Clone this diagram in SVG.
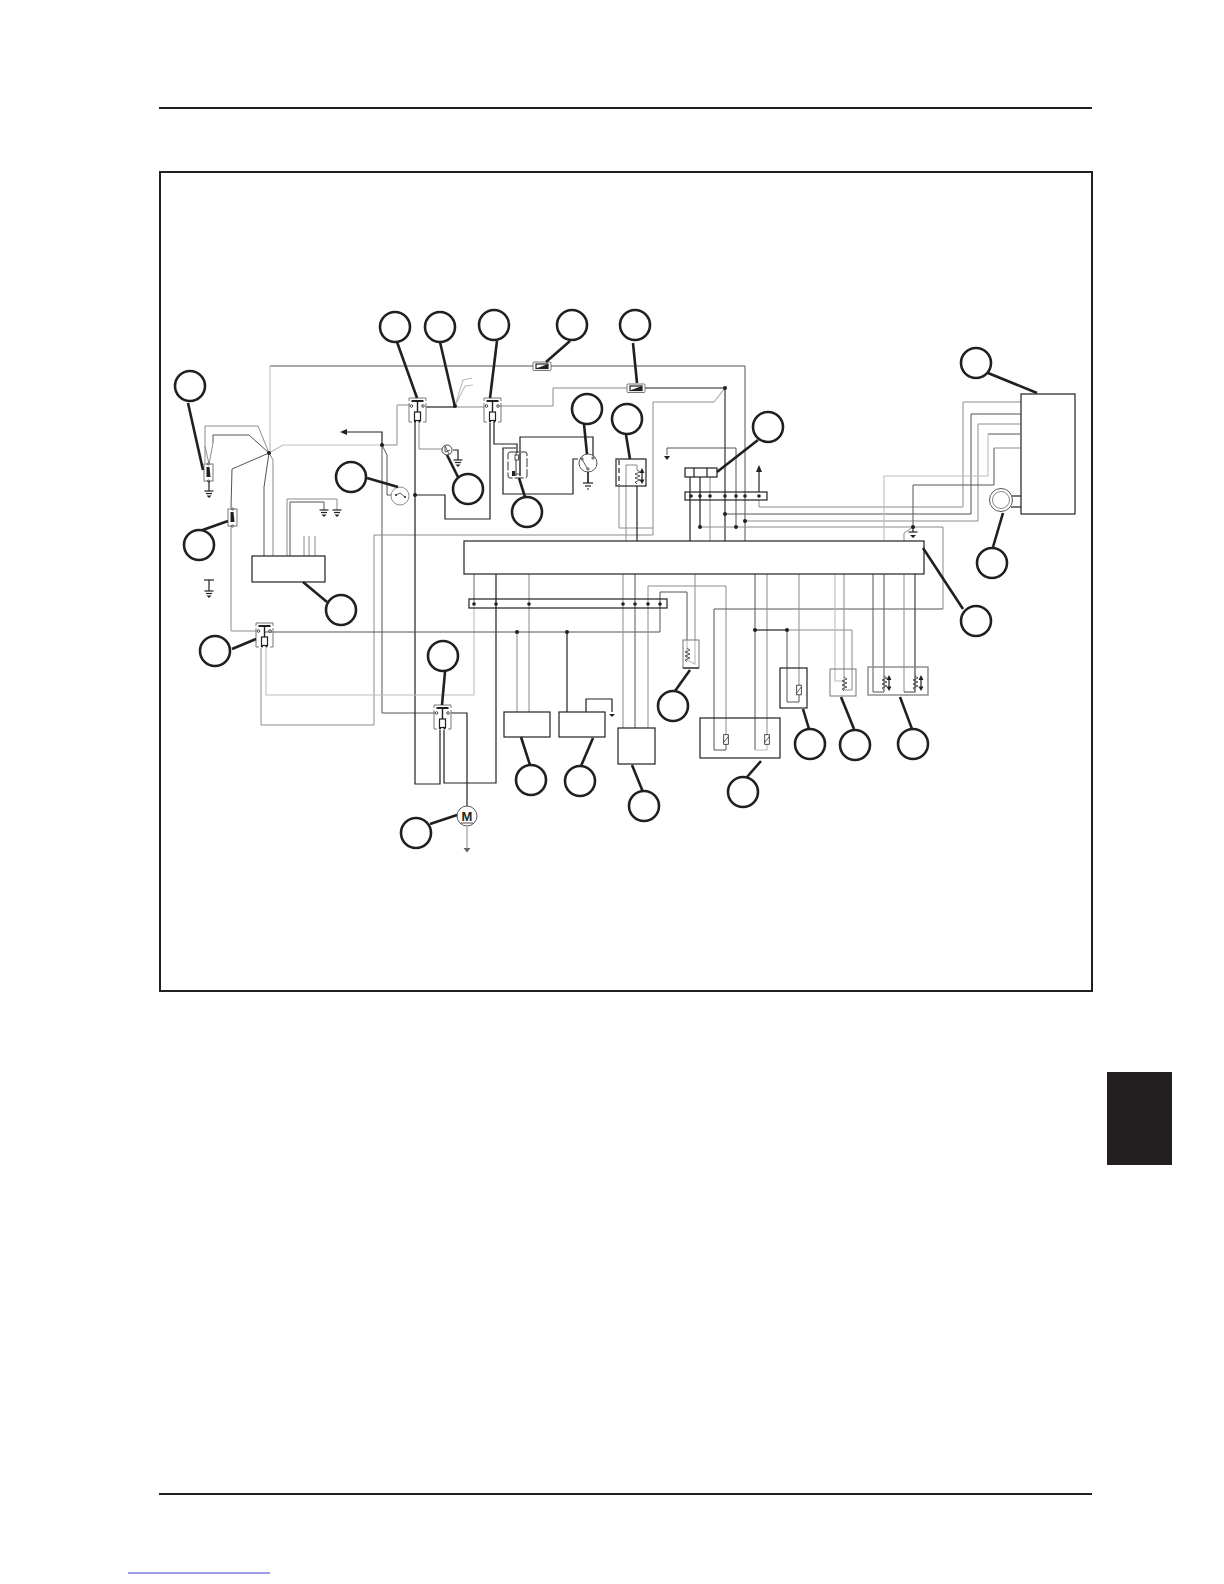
<svg xmlns="http://www.w3.org/2000/svg" width="1224" height="1584" viewBox="0 0 1224 1584">
<style>
path,line,rect,circle{fill:none}
.k{stroke:#231f20;stroke-width:1.2}
.d{stroke:#555;stroke-width:1}
.m{stroke:#8c8c8c;stroke-width:1}
.l{stroke:#bdbdbd;stroke-width:1.1}
.b{stroke:#231f20;stroke-width:1.2;fill:#fff}
.g{stroke:#777;stroke-width:1;fill:#fff}
.c{stroke:#231f20;stroke-width:2.6;fill:#fff}
.ld{stroke:#231f20;stroke-width:2.6}
.dot{fill:#231f20;stroke:none}
.tri{fill:#231f20;stroke:none}
.f{stroke:#231f20;stroke-width:.8;fill:#fff}
.z{stroke:#333;stroke-width:.8}
</style>
<defs>
<g id="sw">
<path class="g" d="M0 3V0H17V3M0 5V24H3M17 5V24H14"/>
<line class="k" x1="2.500" y1="3" x2="14.500" y2="3" style="stroke-width:2"/>
<line class="k" x1="8.500" y1="3" x2="8.500" y2="14" style="stroke-width:1.4"/>
<circle class="f" cx="2.500" cy="8" r="1.300"/><circle class="f" cx="14" cy="8" r="1.300"/>
<rect class="b" x="5.500" y="14" width="6" height="8.500"/>
<circle class="dot" cx="6" cy="23.500" r="1.100"/><circle class="dot" cx="10.500" cy="23.500" r="1.100"/>
</g>
<g id="gnd">
<line class="k" x1="-4.500" y1="0" x2="4.500" y2="0"/><line class="k" x1="-3" y1="2.500" x2="3" y2="2.500"/>
<path class="tri" d="M-2.500 4.500H2.500L0 7Z"/>
</g>
<g id="sen">
<rect class="g" x="0" y="0" width="9" height="17"/>
<path class="tri" d="M2.500 3H5.500L6.500 13H2.500Z"/>
<circle class="f" cx="4.500" cy="0" r="1"/><circle class="f" cx="4.500" cy="17" r="1"/>
</g>
<g id="fuse">
<rect class="g" x="0" y="0" width="18" height="8.500" rx="1"/>
<rect class="b" x="3" y="2" width="12" height="4.500"/>
<path class="tri" d="M3 6.500L15 2V6.500Z"/>
</g>
<g id="res">
<rect class="f" x="-2.300" y="-4.800" width="4.600" height="9.600"/>
<line class="z" x1="-2.300" y1="3" x2="2.300" y2="-3"/>
</g>
<path id="zig" class="z" d="M0 0L3 2L-2 4L3 6L-2 8L3 10L-2 12L0 14"/>
<g id="arr">
<line class="k" x1="0" y1="1" x2="0" y2="13"/>
<path class="tri" d="M-2.500 4L0 -1L2.500 4ZM-2.500 10.500L0 15L2.500 10.500Z"/>
</g>
</defs>

<g id="page">
<rect x="0" y="0" width="1224" height="1584" style="fill:#fff"/>
<line x1="159" y1="108" x2="1092" y2="108" stroke="#231f20" stroke-width="2"/>
<line x1="159" y1="1494" x2="1092" y2="1494" stroke="#231f20" stroke-width="2"/>
<rect x="160" y="172" width="932" height="819" stroke="#231f20" stroke-width="2"/>
<rect x="1107" y="1072" width="65" height="93" style="fill:#231f20"/>
<line x1="128" y1="1573" x2="270" y2="1573" stroke="#3a3ac8" stroke-width="1"/>
</g>

<g id="connectors">
<path class="d" d="M270 366H745V541"/>
<path class="l" d="M270 366V453"/>
<path class="m" d="M205 463V426H258L269 453"/>
<path class="d" d="M213 443V435H249L269 453"/>
<path class="m" d="M209 464L205 446M209 464L213 443"/>
<path class="d" d="M269 453L232 469L231 508"/>
<path class="m" d="M231 525V631H256"/>
<path class="l" d="M269 453L283 445H382"/>
<path class="m" d="M382 445H397V405H410"/>
<path class="k" d="M382 445V432H346"/>
<path class="tri" d="M340 432L347 429V435Z"/>
<path class="d" d="M382 445L387 455V495H392"/>
<path class="d" d="M382 445V713H435"/>
<path class="d" d="M264 556V487L269 453"/>
<path class="m" d="M273 556V460L269 453"/>
<path class="m" d="M287 556V499H337V510"/>
<path class="d" d="M290 556V502H324V510"/>
<path class="m" d="M304 536V556M309 536V556M315 536V556"/>
<path class="m" d="M374 725V535H653V402H714L725 388"/>
<path class="m" d="M374 725H261V648"/>
<path class="k" d="M415 422V784H440V730"/>
<path class="k" d="M415 495H445V519H490V423"/>
<path class="m" d="M419 422V449H443"/>
<path class="k" d="M453 450H458V460"/>
<path class="k" d="M426 407H455"/>
<path class="m" d="M455 407H485"/>
<path class="l" d="M455 406L463 380L472 378M455 406L465 386L473 385"/>
<path class="m" d="M498 406H553V388H627"/>
<path class="k" d="M644 388H725"/>
<path class="k" d="M725 388V541" style="stroke:#333"/>
<path class="k" d="M494 422V444H517V453"/>
<path class="k" d="M520 453V437H593V457"/>
<path class="k" d="M516 448H503V494H573V459H578"/>
<path class="k" d="M588 472V483"/>
<path class="m" d="M619 486V528H653"/>
<path class="m" d="M626 541V465H637V470"/>
<path class="k" d="M637 486V541"/>
<path class="d" d="M667 455V448H736V527"/>
<path class="k" d="M690 477V541"/>
<path class="k" d="M700 477V527"/>
<path class="m" d="M710 477V541"/>
<path class="k" d="M759 492V470"/>
<path class="tri" d="M756 472L759 465L762 472Z"/>
<path class="m" d="M700 527H943V609"/>
<path class="m" d="M759 500V507H963V402H1021"/>
<path class="d" d="M725 514H971V414H1021"/>
<path class="m" d="M745 521H978V424H1021"/>
<path class="d" d="M988 434H1020"/>
<path class="l" d="M988 434V476H884V541"/>
<path class="m" d="M994 448H1021"/>
<path class="d" d="M994 448V485H913V527"/>
<path class="m" d="M913 527L904 533V541"/>
<line class="k" x1="1011" y1="496" x2="1021" y2="496"/>
<line class="k" x1="1011" y1="507" x2="1021" y2="507"/>
<path class="l" d="M474 574V695H266V648"/>
<path class="m" d="M474 574V604"/>
<path class="k" d="M496 574V783H444V730"/>
<path class="m" d="M529 574V712"/>
<path class="d" d="M660 604V632H264"/>
<path class="m" d="M517 632V712"/>
<path class="k" d="M567 632V712"/>
<path class="k" d="M586 712V699H612V712"/>
<path class="tri" d="M609 714H615L612 717Z"/>
<path class="m" d="M623 574V728"/>
<path class="d" d="M635 574V728"/>
<path class="m" d="M648 728V586H726V735"/>
<path class="d" d="M660 604V592H687V640"/>
<path class="m" d="M695 574V640"/>
<path class="l" d="M687 640V660L695 664V640"/>
<path class="d" d="M943 609H714V750H726V744"/>
<path class="d" d="M755 574V750"/>
<path class="l" d="M755 750H767V744"/>
<path class="m" d="M767 574V735"/>
<path class="k" d="M755 630H787"/>
<path class="d" d="M787 630V702H799V695"/>
<path class="m" d="M799 574V685"/>
<path class="m" d="M787 630H852V690H844V677"/>
<path class="l" d="M835 574V681H842"/>
<path class="m" d="M844 574V677"/>
<path class="d" d="M873 574V692H884V574"/>
<path class="m" d="M904 574V692"/>
<path class="k" d="M904 692H915V574" style="stroke:#444"/>
<path class="k" d="M451 713H467V806"/>
<path class="m" d="M467 827V848"/>
<circle class="dot" cx="269" cy="453" r="2"/><circle class="dot" cx="382" cy="445" r="2"/><circle class="dot" cx="415" cy="495" r="2"/>
<circle class="dot" cx="455" cy="406" r="2"/><circle class="dot" cx="725" cy="388" r="2"/>
<circle class="dot" cx="725" cy="514" r="2"/><circle class="dot" cx="745" cy="521" r="2"/>
<circle class="dot" cx="700" cy="527" r="2"/><circle class="dot" cx="736" cy="527" r="2"/><circle class="dot" cx="913" cy="527" r="2"/>
<circle class="dot" cx="517" cy="632" r="2"/><circle class="dot" cx="567" cy="632" r="2"/><circle class="dot" cx="755" cy="630" r="2"/><circle class="dot" cx="787" cy="630" r="2"/>
</g>

<g id="sensor-left"><use href="#sen" x="204" y="464"/><line class="k" x1="209" y1="481" x2="209" y2="491"/><use href="#gnd" x="209" y="491"/></g>
<g id="sensor-2"><use href="#sen" x="228" y="509"/></g>
<g id="ground-stray"><line class="k" x1="204" y1="580" x2="214" y2="580"/><line class="k" x1="209" y1="580" x2="209" y2="591"/><use href="#gnd" x="209" y="591"/></g>
<g id="ground-a"><use href="#gnd" x="324" y="510"/></g>
<g id="ground-b"><use href="#gnd" x="337" y="510"/></g>
<g id="block-left"><rect class="b" x="252" y="556" width="73" height="26"/></g>
<g id="switch-1"><use href="#sw" x="409" y="398"/></g>
<g id="switch-2"><use href="#sw" x="484" y="398"/></g>
<g id="switch-3"><use href="#sw" x="256" y="623"/></g>
<g id="switch-4"><use href="#sw" x="434" y="705"/></g>
<g id="lamp"><circle class="f" cx="447" cy="450" r="5"/><path class="z" d="M445 446L449 454M445 446V452L450 450"/><use href="#gnd" x="458" y="460"/></g>
<g id="pressure"><circle class="m" cx="400" cy="496" r="9" style="fill:#fff"/><path class="z" d="M396 495L400 493L405 497"/><circle class="dot" cx="396" cy="495" r="1"/><circle class="dot" cx="405" cy="497" r="1"/></g>
<g id="fuse-top"><use href="#fuse" x="533" y="362"/></g>
<g id="fuse-2"><use href="#fuse" x="627" y="384"/></g>
<g id="relay">
<rect x="508" y="452" width="19" height="26" rx="2" stroke="#333" stroke-width="1" stroke-dasharray="9 2"/>
<line class="k" x1="516" y1="453" x2="516" y2="476" style="stroke-width:.9"/>
<line class="k" x1="520" y1="453" x2="520" y2="476" style="stroke-width:1.4"/>
<rect class="f" x="515" y="455" width="3.500" height="5"/><rect class="tri" x="512" y="471" width="3" height="5"/>
<line class="z" x1="513" y1="474" x2="520" y2="474"/>
</g>
<g id="horn">
<circle class="m" cx="588" cy="463" r="9" style="fill:#fff;stroke:#555"/>
<path class="z" d="M582 459L588 470"/><circle class="f" cx="582" cy="459" r="1.100"/><circle class="f" cx="593" cy="458" r="1.100"/><circle class="f" cx="588" cy="469" r="1.100"/>
<line class="k" x1="588" y1="472" x2="588" y2="483"/>
<line class="k" x1="583" y1="483" x2="593" y2="483"/><line class="k" x1="585" y1="486" x2="591" y2="486"/><line class="k" x1="587" y1="489" x2="589" y2="489"/>
</g>
<g id="sender-616">
<rect class="b" x="616" y="459" width="30" height="27" style="fill:none"/>
<line class="k" x1="619" y1="460" x2="619" y2="485" stroke-dasharray="5 3"/>
<use href="#zig" x="637" y="470"/><use href="#arr" x="642" y="469"/>
</g>
<g id="ground-small"><path class="tri" d="M664 456H670L667 460Z"/></g>
<g id="relay-3">
<rect class="b" x="685" y="468" width="32" height="9"/><line class="k" x1="694" y1="468" x2="694" y2="477"/><line class="k" x1="707" y1="468" x2="707" y2="477"/>
</g>
<g id="strip-1">
<rect class="b" x="685" y="492" width="82" height="8" style="fill:none"/>
<circle class="dot" cx="691" cy="496" r="1.800"/><circle class="dot" cx="700" cy="496" r="1.800"/><circle class="dot" cx="710" cy="496" r="1.800"/><circle class="dot" cx="725" cy="496" r="1.800"/><circle class="dot" cx="736" cy="496" r="1.800"/><circle class="dot" cx="745" cy="496" r="1.800"/><circle class="dot" cx="759" cy="496" r="1.800"/>
</g>
<g id="ecu"><rect class="b" x="464" y="541" width="460" height="33"/></g>
<g id="strip-2">
<rect class="b" x="469" y="599" width="198" height="9" style="fill:none"/>
<circle class="dot" cx="474" cy="604" r="1.800"/><circle class="dot" cx="496" cy="604" r="1.800"/><circle class="dot" cx="529" cy="604" r="1.800"/><circle class="dot" cx="623" cy="604" r="1.800"/><circle class="dot" cx="635" cy="604" r="1.800"/><circle class="dot" cx="648" cy="604" r="1.800"/><circle class="dot" cx="660" cy="604" r="1.800"/>
</g>
<g id="box-a"><rect class="b" x="504" y="712" width="46" height="25"/></g>
<g id="box-b"><rect class="b" x="559" y="712" width="46" height="25"/></g>
<g id="box-c"><rect class="b" x="618" y="728" width="37" height="36"/></g>
<g id="heater"><rect x="683" y="640" width="16" height="28" stroke="#777" stroke-width="1"/><line class="k" x1="683" y1="668" x2="699" y2="668"/><use href="#zig" x="687" y="648"/></g>
<g id="sensor-pair">
<rect class="b" x="700" y="718" width="80" height="40" style="fill:none"/>
<use href="#res" x="726" y="739.500"/><use href="#res" x="767" y="739.500"/>
</g>
<g id="sensor-r"><rect class="b" x="780" y="668" width="27" height="40" style="fill:none"/><use href="#res" x="799" y="690"/></g>
<g id="sensor-z"><rect x="830" y="669" width="26" height="27" stroke="#777" stroke-width="1"/><use href="#zig" x="844" y="677"/></g>
<g id="sender-pair">
<rect x="868" y="667" width="60" height="28" stroke="#888" stroke-width="1.400"/>
<use href="#zig" x="884" y="676"/><use href="#arr" x="889" y="676"/>
<use href="#zig" x="915" y="676"/><use href="#arr" x="921" y="676"/>
</g>
<g id="motor">
<circle cx="467" cy="816" r="10" stroke="#555" stroke-width="1" style="fill:#fff"/>
<text x="467" y="821" text-anchor="middle" font-family="Liberation Sans, Arial, sans-serif" font-size="13" font-weight="700" fill="#231f20">M</text>
<line class="k" x1="461" y1="823" x2="473" y2="823" style="stroke-width:.8"/>
<path d="M463.500 848H470.500L467 852.500Z" style="fill:#666"/>
</g>
<g id="unit-right"><rect class="b" x="1021" y="394" width="54" height="120"/></g>
<g id="ring"><circle cx="1001" cy="500" r="11.500" stroke="#555" stroke-width="1" style="fill:#fff"/><circle cx="1001" cy="500" r="8.500" stroke="#888" stroke-width="1"/></g>
<g id="ground-right"><line class="k" x1="913" y1="527" x2="913" y2="532"/><line class="k" x1="908.500" y1="532" x2="917.500" y2="532"/><path class="tri" d="M910 535H916L913 538Z"/></g>

<g id="callouts">
<g id="c01"><line class="ld" x1="188" y1="403" x2="203" y2="470"/><circle class="c" cx="190" cy="386" r="15"/></g>
<g id="c02"><line class="ld" x1="397" y1="342" x2="417" y2="398"/><circle class="c" cx="395" cy="327" r="15"/></g>
<g id="c03"><line class="ld" x1="440" y1="342" x2="455" y2="407"/><circle class="c" cx="440" cy="327" r="15"/></g>
<g id="c04"><line class="ld" x1="497" y1="341" x2="490" y2="398"/><circle class="c" cx="494" cy="325" r="15"/></g>
<g id="c05"><line class="ld" x1="570" y1="341" x2="546" y2="362"/><circle class="c" cx="572" cy="325" r="15"/></g>
<g id="c06"><line class="ld" x1="633" y1="343" x2="637" y2="383"/><circle class="c" cx="635" cy="325" r="15"/></g>
<g id="c07"><line class="ld" x1="988" y1="373" x2="1037" y2="393"/><circle class="c" cx="976" cy="363" r="15"/></g>
<g id="c08"><line class="ld" x1="758" y1="440" x2="717" y2="472"/><circle class="c" cx="768" cy="427" r="15"/></g>
<g id="c09"><line class="ld" x1="584" y1="424" x2="587" y2="454"/><circle class="c" cx="587" cy="409" r="15"/></g>
<g id="c10"><line class="ld" x1="626" y1="435" x2="630" y2="459"/><circle class="c" cx="627" cy="419" r="15"/></g>
<g id="c11"><line class="ld" x1="447" y1="455" x2="458" y2="477"/><circle class="c" cx="468" cy="489" r="15"/></g>
<g id="c12"><line class="ld" x1="367" y1="478" x2="398" y2="487"/><circle class="c" cx="351" cy="477" r="15"/></g>
<g id="c13"><line class="ld" x1="525" y1="497" x2="519" y2="478"/><circle class="c" cx="527" cy="512" r="15"/></g>
<g id="c14"><line class="ld" x1="197" y1="532" x2="228" y2="521"/><circle class="c" cx="199" cy="545" r="15"/></g>
<g id="c15"><line class="ld" x1="303" y1="582" x2="327" y2="602"/><circle class="c" cx="341" cy="610" r="15"/></g>
<g id="c16"><line class="ld" x1="232" y1="649" x2="256" y2="639"/><circle class="c" cx="215" cy="651" r="15"/></g>
<g id="c17"><line class="ld" x1="445" y1="672" x2="442" y2="705"/><circle class="c" cx="443" cy="656" r="15"/></g>
<g id="c18"><line class="ld" x1="430" y1="824" x2="457" y2="815"/><circle class="c" cx="416" cy="833" r="15"/></g>
<g id="c19"><line class="ld" x1="521" y1="737" x2="530" y2="765"/><circle class="c" cx="531" cy="780" r="15"/></g>
<g id="c20"><line class="ld" x1="593" y1="738" x2="581" y2="766"/><circle class="c" cx="580" cy="781" r="15"/></g>
<g id="c21"><line class="ld" x1="632" y1="765" x2="643" y2="792"/><circle class="c" cx="644" cy="806" r="15"/></g>
<g id="c22"><line class="ld" x1="690" y1="670" x2="675" y2="691"/><circle class="c" cx="673" cy="706" r="15"/></g>
<g id="c23"><line class="ld" x1="761" y1="761" x2="747" y2="777"/><circle class="c" cx="743" cy="792" r="15"/></g>
<g id="c24"><line class="ld" x1="803" y1="709" x2="809" y2="729"/><circle class="c" cx="810" cy="744" r="15"/></g>
<g id="c25"><line class="ld" x1="841" y1="697" x2="854" y2="729"/><circle class="c" cx="855" cy="745" r="15"/></g>
<g id="c26"><line class="ld" x1="900" y1="697" x2="912" y2="729"/><circle class="c" cx="913" cy="744" r="15"/></g>
<g id="c27"><line class="ld" x1="923" y1="548" x2="963" y2="609"/><circle class="c" cx="976" cy="621" r="15"/></g>
<g id="c28"><line class="ld" x1="1003" y1="513" x2="993" y2="547"/><circle class="c" cx="992" cy="563" r="15"/></g>
</g>
</svg>
